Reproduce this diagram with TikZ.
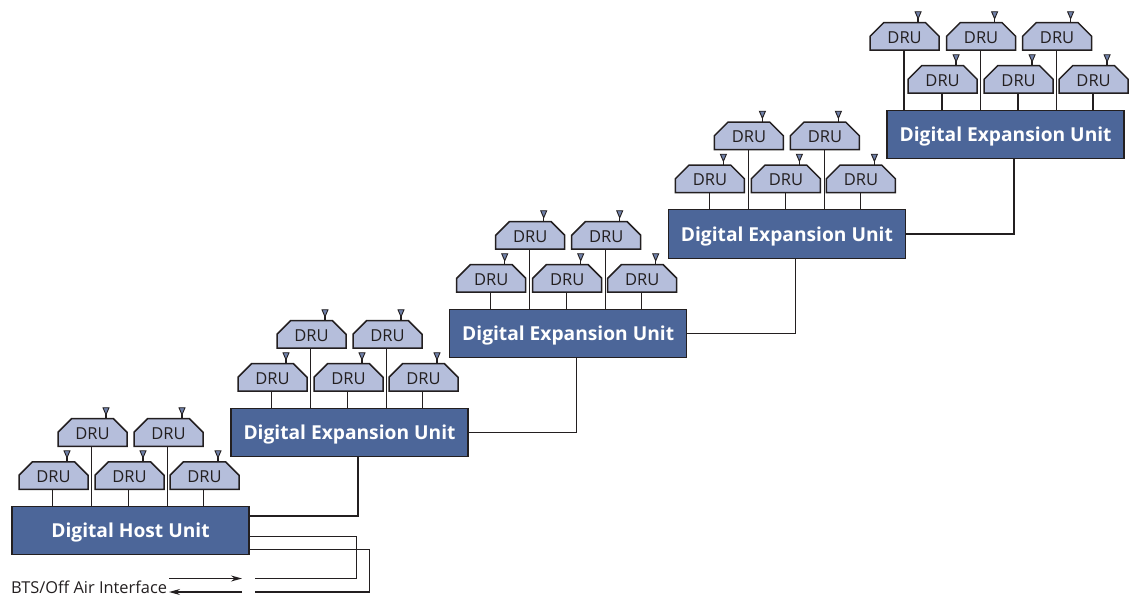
\documentclass[tikz,border=0pt]{standalone}
\usepackage{fontspec}
\setmainfont{Open Sans}
\usetikzlibrary{arrows.meta}
\definecolor{unitblue}{HTML}{4C6699}
\definecolor{drublue}{HTML}{B5BEDB}
\definecolor{antblue}{HTML}{6F80A8}
\definecolor{wire}{HTML}{231F20}

\makeatletter
\pgfdeclareshape{druchamfer}{
    \inheritsavedanchors[from=rectangle]
    \inheritanchorborder[from=rectangle]
    \inheritanchor[from=rectangle]{center}
    \inheritanchor[from=rectangle]{north}
    \inheritanchor[from=rectangle]{south}
    \backgroundpath{
        \southwest \pgf@xa=\pgf@x \pgf@ya=\pgf@y
        \northeast \pgf@xb=\pgf@x \pgf@yb=\pgf@y
        \pgfpathmoveto{\pgfqpoint{\pgf@xa}{\pgf@ya}}
        \pgfpathlineto{\pgfqpoint{\pgf@xb}{\pgf@ya}}
        \pgfpathlineto{\pgfqpoint{\pgf@xb}{\dimexpr\pgf@yb-13.5pt}}
        \pgfpathlineto{\pgfqpoint{\dimexpr\pgf@xb-13.5pt}{\pgf@yb}}
        \pgfpathlineto{\pgfqpoint{\dimexpr\pgf@xa+13.5pt}{\pgf@yb}}
        \pgfpathlineto{\pgfqpoint{\pgf@xa}{\dimexpr\pgf@yb-13.5pt}}
        \pgfpathclose
    }
}
\makeatother

\begin{document}
\begin{tikzpicture}[x=1pt, y=1pt, node distance=55pt]
    \useasboundingbox (0,0) rectangle (1131,597);
    \tikzset{
        unitbox/.style={
            draw=wire, rectangle, fill=unitblue, text=white, line width=1.4pt, minimum width=237pt, minimum height=48.5pt, text depth=0.2pt, font=\fontsize{19.2}{22}\selectfont\bfseries
        },
        drubox/.style={
            draw=wire, shape=druchamfer, fill=drublue, text=wire, line width=1.5pt, minimum width=69pt, minimum height=27.5pt, inner sep=0pt, outer sep=0pt, text height=13.8pt, font=\fontsize{16.5}{18}\selectfont
        },
        wireline/.style={draw=wire, line width=1.3pt}
    }
    % Unidades principales
    \node[unitbox] (host) at (130.5,66.5) {Digital Host Unit};
    \node[unitbox, above of=host, xshift=219pt, yshift=43pt] (expA) {Digital Expansion Unit};
    \node[unitbox, above of=expA, xshift=218.7pt, yshift=44pt] (expB) {Digital Expansion Unit};
    \node[unitbox, above of=expB, xshift=218.7pt, yshift=44.5pt] (expC) {Digital Expansion Unit};
    \node[unitbox, above of=expC, xshift=218.7pt, yshift=44.5pt] (expD) {Digital Expansion Unit};

    % DRU de la unidad host
    \node[drubox, above of=host, xshift=-77pt] (druHa) {DRU};
    \node[drubox, above of=host, xshift=-1pt] (druHb) {DRU};
    \node[drubox, above of=host, xshift=74pt] (druHc) {DRU};
    \node[drubox, above of=host, xshift=-38pt, yshift=43pt] (druHd) {DRU};
    \node[drubox, above of=host, xshift=38pt, yshift=43pt] (druHe) {DRU};
    % DRU de la primera expansion
    \node[drubox, above of=expA, xshift=-77pt] (druAa) {DRU};
    \node[drubox, above of=expA, xshift=-1pt] (druAb) {DRU};
    \node[drubox, above of=expA, xshift=74pt] (druAc) {DRU};
    \node[drubox, above of=expA, xshift=-38pt, yshift=43pt] (druAd) {DRU};
    \node[drubox, above of=expA, xshift=38pt, yshift=43pt] (druAe) {DRU};
    % DRU de la segunda expansion
    \node[drubox, above of=expB, xshift=-77pt] (druBa) {DRU};
    \node[drubox, above of=expB, xshift=-1pt] (druBb) {DRU};
    \node[drubox, above of=expB, xshift=74pt] (druBc) {DRU};
    \node[drubox, above of=expB, xshift=-38pt, yshift=43pt] (druBd) {DRU};
    \node[drubox, above of=expB, xshift=38pt, yshift=43pt] (druBe) {DRU};
    % DRU de la tercera expansion
    \node[drubox, above of=expC, xshift=-77pt] (druCa) {DRU};
    \node[drubox, above of=expC, xshift=-1pt] (druCb) {DRU};
    \node[drubox, above of=expC, xshift=74pt] (druCc) {DRU};
    \node[drubox, above of=expC, xshift=-38pt, yshift=43pt] (druCd) {DRU};
    \node[drubox, above of=expC, xshift=38pt, yshift=43pt] (druCe) {DRU};
    % DRU de la ultima expansion
    \node[drubox, above of=expD, xshift=-63pt] (druDa) {DRU};
    \node[drubox, above of=expD, xshift=13pt] (druDb) {DRU};
    \node[drubox, above of=expD, xshift=88pt] (druDc) {DRU};
    \node[drubox, above of=expD, xshift=-101pt, yshift=43pt] (druDd) {DRU};
    \node[drubox, above of=expD, xshift=-24.5pt, yshift=43pt] (druDe) {DRU};
    \node[drubox, above of=expD, xshift=51.5pt, yshift=43pt] (druDf) {DRU};

    % Conexiones DRU - unidad y antenas
    \foreach \dru/\unit in {druHa/host, druHb/host, druHc/host, druHd/host, druHe/host,
        druAa/expA, druAb/expA, druAc/expA, druAd/expA, druAe/expA,
        druBa/expB, druBb/expB, druBc/expB, druBd/expB, druBe/expB,
        druCa/expC, druCb/expC, druCc/expC, druCd/expC, druCe/expC,
        druDa/expD, druDb/expD, druDc/expD, druDd/expD, druDe/expD, druDf/expD} {
        \draw[wireline] ([xshift=-0.7pt]\dru.south) -- ([xshift=-0.7pt]\dru.south |- \unit.north);
        \draw[wireline] ([xshift=13.5pt]\dru.north) -- ++(0,5);
        \draw[draw=wire, fill=antblue, line width=0.9pt] ([xshift=13.5pt, yshift=4pt]\dru.north) -- ++(-3,7) -- ++(6,0) -- cycle;
    }

    % Enlaces entre unidades
    \draw[wireline] ([xshift=8.5pt]expA.south) |- ([yshift=14.5pt]host.east);
    \draw[wireline] ([xshift=8.5pt]expB.south) |- (expA.east);
    \draw[wireline] ([xshift=8.5pt]expC.south) |- (expB.east);
    \draw[wireline] ([xshift=8.5pt]expD.south) |- (expC.east);

    % Interfaz BTS
    \node[anchor=west, inner sep=0pt, font=\fontsize{16.4}{19}\selectfont, text=wire] (bts) at (11,10) {BTS/Off Air Interface};
    \coordinate (txin) at (169,18.5);
    \coordinate (txout) at (242,18.5);
    \coordinate (rxin) at (242,5);
    \coordinate (rxout) at (169,5);
    \coordinate (txend) at (255,18.5);
    \coordinate (rxend) at (255,5);
    \draw[wireline, -{Stealth[length=11pt, width=6pt]}] (txin) -- (txout);
    \draw[wireline, -{Stealth[length=11pt, width=6pt]}] (rxin) -- (rxout);
    \draw[wireline] ([yshift=-6pt]host.east) -- ++(107,0) |- (txend);
    \draw[wireline] ([yshift=-19pt]host.east) -- ++(120,0) |- (rxend);
\end{tikzpicture}
\end{document}
